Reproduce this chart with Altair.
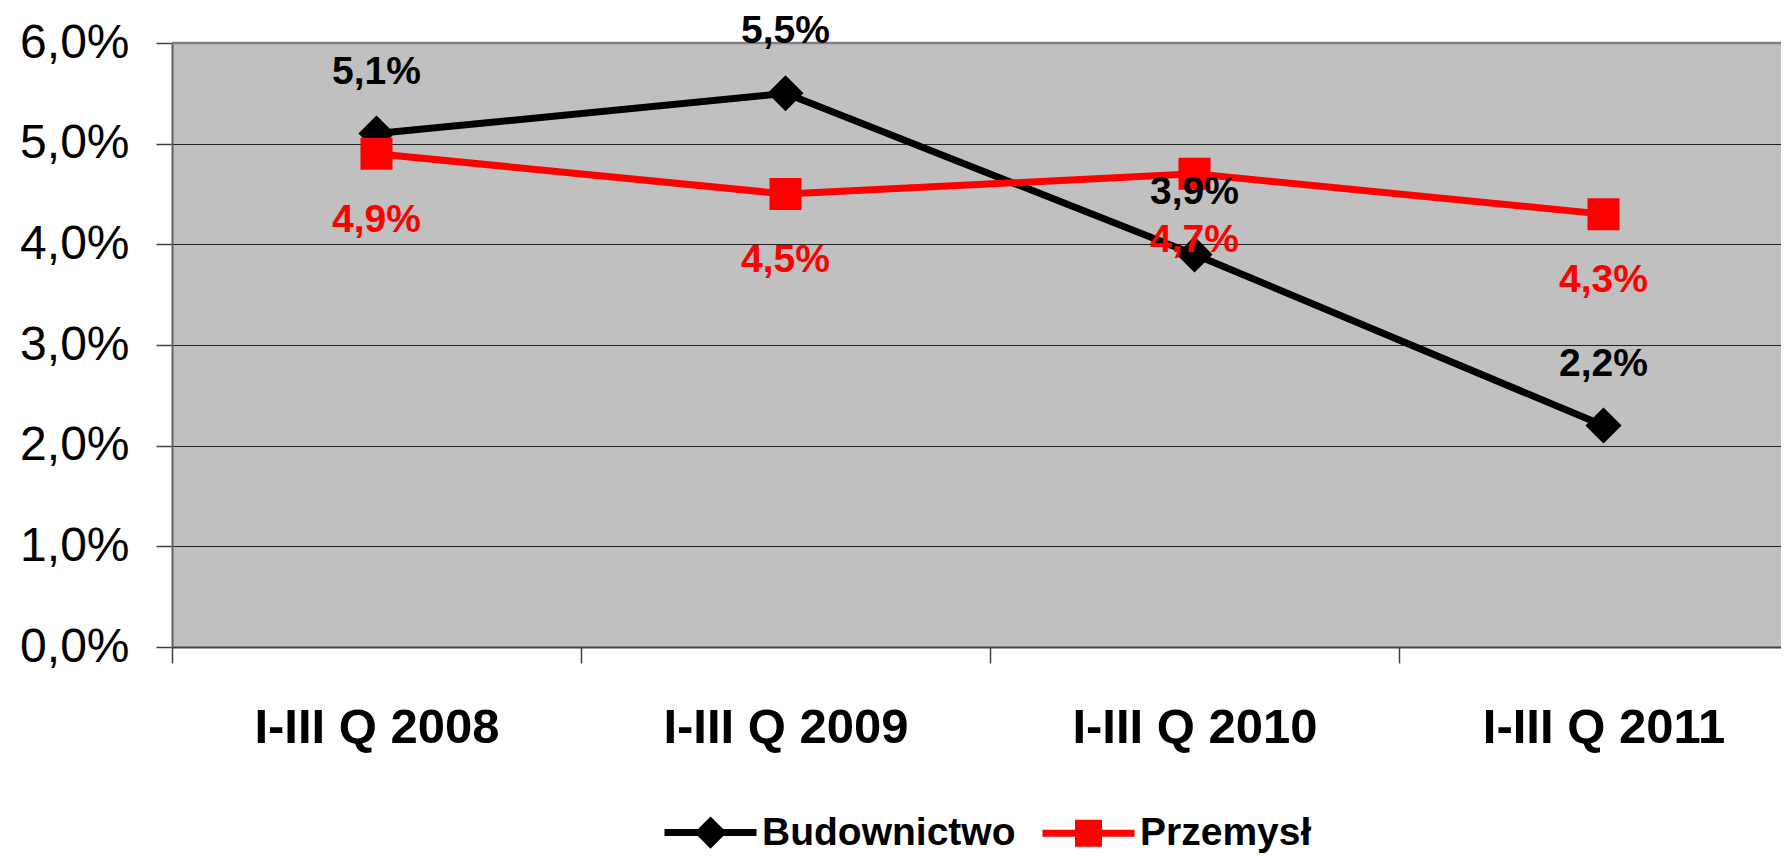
import altair as alt
import pandas as pd

categories = ["I-III Q 2008", "I-III Q 2009", "I-III Q 2010", "I-III Q 2011"]
series_names = ["Budownictwo", "Przemysł"]
budownictwo = [5.1, 5.5, 3.9, 2.2]
przemysl = [4.9, 4.5, 4.7, 4.3]
series_colors = ["#000000", "#FF0000"]
y_ticks = [0, 1, 2, 3, 4, 5, 6]

rows = []
for name, vals in zip(series_names, [budownictwo, przemysl]):
    for c, v in zip(categories, vals):
        rows.append({"kwartal": c, "seria": name, "wartosc": v,
                     "etykieta": f"{v:.1f}".replace(".", ",") + "%"})
df = pd.DataFrame(rows)

FONT = "Liberation Sans"

# custom legend/marker shapes: line segment + marker (line invisible in plot: strokeWidth 0)
path_diamond = "M-2,0H2M-0.49,0L0,-0.49L0.49,0L0,0.49Z"
path_square = "M-2,0H2M-0.435,-0.435H0.435V0.435H-0.435Z"

x_enc = alt.X(
    "kwartal:N", sort=categories,
    scale=alt.Scale(type="band", range=[0, 1636], paddingInner=0, paddingOuter=0),
    axis=alt.Axis(title=None, labelAngle=0, tickBand="extent", tickSize=16,
                  tickColor="#404040", tickWidth=1.5, domainColor="#404040",
                  domainWidth=2, labelFont=FONT, labelFontWeight="bold",
                  labelFontSize=49, labelColor="#000000", labelPadding=40,
                  labelLimit=500, labelOverlap=False, grid=False),
)
y_enc = alt.Y(
    "wartosc:Q",
    scale=alt.Scale(domain=[0, 6], nice=False, zero=True),
    axis=alt.Axis(title=None, values=y_ticks,
                  labelExpr="replace(format(datum.value, '.1f'), '.', ',') + '%'",
                  labelFont=FONT, labelFontSize=48, labelColor="#000000",
                  labelPadding=27, tickSize=16, tickColor="#404040", tickWidth=1.5,
                  domainColor="#606060", domainWidth=2, grid=True,
                  gridColor="#222222", gridWidth=1.2, gridOpacity=1),
)

base = alt.Chart(df)

line_b = base.transform_filter(alt.datum.seria == series_names[0]).mark_line(
    color=series_colors[0], strokeWidth=7).encode(x=x_enc, y=y_enc)
line_p = base.transform_filter(alt.datum.seria == series_names[1]).mark_line(
    color=series_colors[1], strokeWidth=7).encode(x=x_enc, y=y_enc)

top_rule = alt.Chart(pd.DataFrame({"v": [6]})).mark_rule(
    color="#808080", strokeWidth=2.5).encode(y=alt.Y("v:Q"))

leg = alt.Legend(title=None, orient="none", legendX=512, legendY=763,
                 direction="horizontal", labelFont=FONT, labelFontWeight="bold",
                 labelFontSize=39, labelColor="#000000", labelLimit=500,
                 symbolSize=2116, symbolStrokeWidth=7, labelOffset=25,
                 columnPadding=12, padding=0, symbolOpacity=1)

points = base.mark_point(filled=True, size=5417, opacity=1).encode(
    x=x_enc, y=y_enc,
    color=alt.Color("seria:N", sort=series_names,
                    scale=alt.Scale(domain=series_names, range=series_colors), legend=leg),
    stroke=alt.Stroke("seria:N", sort=series_names,
                      scale=alt.Scale(domain=series_names, range=series_colors), legend=leg),
    shape=alt.Shape("seria:N", sort=series_names,
                    scale=alt.Scale(domain=series_names, range=[path_diamond, path_square]),
                    legend=leg),
    strokeWidth=alt.value(0),
)

text_b = base.transform_filter(alt.datum.seria == series_names[0]).mark_text(
    color=series_colors[0], dy=-62, font=FONT, fontSize=39, fontWeight="bold",
    baseline="middle", align="center").encode(x=x_enc, y=y_enc, text="etykieta:N")
text_p = base.transform_filter(alt.datum.seria == series_names[1]).mark_text(
    color=series_colors[1], dy=66, font=FONT, fontSize=39, fontWeight="bold",
    baseline="middle", align="center").encode(x=x_enc, y=y_enc, text="etykieta:N")

chart = alt.layer(line_b, line_p, top_rule, points, text_b, text_p).properties(
    width=1609, height=604,
    padding={"left": 164, "top": 35, "right": 0, "bottom": 216},
    autosize=alt.AutoSizeParams(type="none"),
    background="#FFFFFF",
).configure_view(fill="#C0C0C0", stroke=None)

chart.save("out.html", embed_options={"renderer": "svg", "actions": False})
